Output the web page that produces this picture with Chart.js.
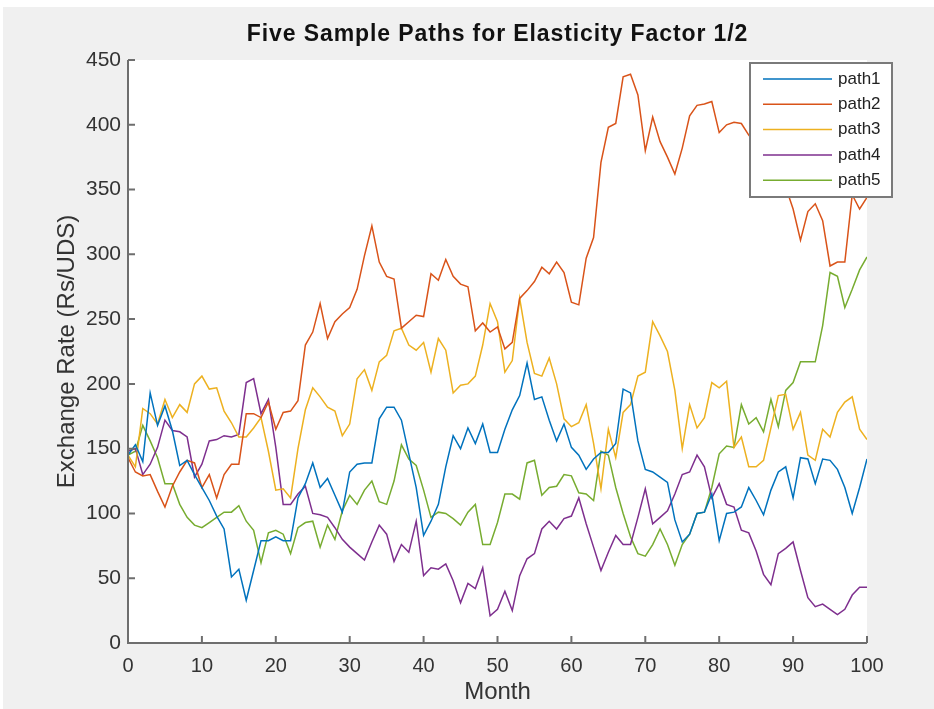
<!DOCTYPE html>
<html>
<head>
<meta charset="utf-8">
<title>Five Sample Paths for Elasticity Factor 1/2</title>
<script src="https://cdn.jsdelivr.net/npm/chart.js@4.4.1/dist/chart.umd.min.js"></script>
<style>
  html, body { margin: 0; padding: 0; background: #ffffff; }
  #wrap { position: relative; width: 934px; height: 709px; }
</style>
</head>
<body>
<div id="wrap"><canvas id="pathChart" width="934" height="709"></canvas></div>
<script>
// ── Data ────────────────────────────────────────────────────────────────────
const months = Array.from({ length: 101 }, (_, i) => i);
const xTicks = [0, 10, 20, 30, 40, 50, 60, 70, 80, 90, 100];
const yTicks = [0, 50, 100, 150, 200, 250, 300, 350, 400, 450];
const seriesNames = ['path1', 'path2', 'path3', 'path4', 'path5'];
const chartTitle = 'Five Sample Paths for Elasticity Factor 1/2';

const path1 = [145, 153, 140, 193, 168, 183, 164, 137, 141, 130,
               120, 110, 98, 88, 51, 57, 33, 56, 79, 79,
               82, 79, 79, 112, 123, 139, 120, 127, 114, 101,
               132, 138, 139, 139, 173, 182, 182, 172, 146, 120,
               83, 94, 107, 136, 160, 150, 166, 154, 169, 147,
               147, 165, 180, 191, 216, 188, 190, 172, 156, 169,
               151, 145, 134, 142, 147, 147, 154, 196, 193, 156,
               134, 132, 128, 124, 95, 78, 84, 100, 101, 115,
               79, 100, 101, 105, 120, 110, 99, 118, 132, 136,
               112, 143, 142, 123, 142, 141, 134, 120, 100, 120,
               142];
const path2 = [143, 132, 129, 130, 117, 105, 121, 132, 141, 139,
               120, 130, 112, 130, 138, 138, 177, 177, 174, 186,
               165, 178, 179, 187, 230, 240, 262, 235, 248, 254,
               259, 273, 299, 322, 294, 283, 281, 243, 248, 253,
               252, 285, 280, 296, 283, 277, 275, 241, 247, 240,
               244, 227, 232, 266, 272, 279, 290, 285, 294, 286,
               263, 261, 297, 313, 371, 398, 401, 437, 439, 423,
               380, 406, 387, 375, 362, 382, 407, 415, 416, 418,
               394, 400, 402, 401, 392, 385, 395, 378, 365, 352,
               335, 311, 333, 339, 326, 291, 294, 294, 346, 335,
               344];
const path3 = [145, 136, 181, 177, 169, 188, 174, 184, 178, 200,
               206, 196, 197, 179, 170, 159, 159, 166, 174, 148,
               118, 119, 112, 150, 180, 197, 190, 182, 179, 160,
               169, 204, 211, 195, 217, 222, 241, 243, 230, 226,
               232, 209, 235, 226, 193, 199, 200, 206, 230, 262,
               248, 209, 218, 266, 232, 208, 206, 220, 200, 173,
               167, 170, 184, 154, 119, 165, 143, 178, 184, 206,
               209, 248, 237, 225, 195, 150, 184, 166, 174, 201,
               197, 202, 151, 159, 136, 136, 141, 166, 191, 192,
               165, 178, 145, 141, 165, 159, 178, 186, 190, 165,
               157];
const path4 = [148, 150, 130, 138, 151, 172, 164, 163, 159, 128,
               138, 156, 157, 160, 159, 161, 201, 204, 177, 188,
               151, 107, 107, 115, 121, 100, 99, 97, 89, 80,
               74, 69, 64, 78, 91, 84, 63, 76, 70, 94,
               52, 58, 57, 61, 48, 31, 46, 42, 58, 21,
               26, 40, 25, 52, 65, 69, 88, 94, 88, 96,
               98, 112, 92, 74, 56, 70, 83, 76, 76, 97,
               119, 92, 97, 102, 115, 130, 132, 145, 136, 112,
               123, 107, 105, 87, 85, 71, 53, 45, 69, 73,
               78, 56, 35, 28, 30, 26, 22, 26, 37, 43,
               43];
const path5 = [145, 148, 168, 156, 143, 123, 123, 107, 97, 91,
               89, 93, 97, 101, 101, 106, 94, 87, 62, 85,
               87, 84, 69, 89, 93, 94, 74, 91, 80, 102,
               114, 107, 118, 125, 109, 107, 125, 153, 142, 137,
               118, 97, 101, 100, 96, 91, 101, 107, 76, 76,
               93, 115, 115, 111, 139, 141, 114, 120, 121, 130,
               129, 116, 115, 110, 148, 145, 120, 100, 82, 69,
               67, 76, 88, 76, 60, 76, 84, 100, 101, 120,
               146, 152, 151, 184, 169, 174, 163, 188, 167, 195,
               201, 217, 217, 217, 245, 286, 283, 259, 273, 288,
               298];

const allPaths = [path1, path2, path3, path4, path5];
const lineColors = ['#0072BD', '#D95319', '#EDB120', '#7E2F8E', '#77AC30'];

// ── Look ────────────────────────────────────────────────────────────────────
const FONT = '"Liberation Sans", Arial, Helvetica, sans-serif';
const FIG_BG = '#F0F0F0';
const AXIS_COLOR = '#6e6e6e';
const TEXT_COLOR = '#333333';

// figure background: white page edge, gray figure, white axes
const figureBg = {
    id: 'figureBg',
    beforeDraw(chart) {
        const { ctx, width, height, chartArea: a } = chart;
        ctx.save();
        ctx.fillStyle = '#ffffff';
        ctx.fillRect(0, 0, width, height);
        ctx.fillStyle = FIG_BG;
        ctx.fillRect(3, 7, width - 3, height - 7);
        ctx.fillStyle = '#ffffff';
        ctx.fillRect(a.left, a.top, a.right - a.left, a.bottom - a.top);
        ctx.restore();
    }
};

// MATLAB-style axes: left + bottom lines with inward ticks
const matlabAxes = {
    id: 'matlabAxes',
    afterDatasetsDraw(chart) {
        const { ctx, chartArea: a, scales: { x, y } } = chart;
        const tick = 7;
        ctx.save();
        ctx.strokeStyle = AXIS_COLOR;
        ctx.lineWidth = 2;
        ctx.beginPath();
        ctx.moveTo(a.left, a.top);
        ctx.lineTo(a.left, a.bottom);
        ctx.lineTo(a.right, a.bottom);
        yTicks.forEach(v => {
            const py = y.getPixelForValue(v);
            ctx.moveTo(a.left, py);
            ctx.lineTo(a.left + tick, py);
        });
        xTicks.forEach(v => {
            const px = x.getPixelForValue(v);
            ctx.moveTo(px, a.bottom);
            ctx.lineTo(px, a.bottom - tick);
        });
        ctx.stroke();
        ctx.restore();
    }
};

// title centred over the axes, not over the whole canvas
const axesTitle = {
    id: 'axesTitle',
    afterDraw(chart) {
        const { ctx, chartArea: a } = chart;
        ctx.save();
        ctx.font = 'bold 23px ' + FONT;
        ctx.letterSpacing = '0.9px';
        ctx.fillStyle = '#111111';
        ctx.textAlign = 'center';
        ctx.textBaseline = 'middle';
        ctx.fillText(chartTitle, (a.left + a.right) / 2, a.top - 25);
        ctx.restore();
    }
};

// legend box in the upper right corner, sticking out past the axes
const boxLegend = {
    id: 'boxLegend',
    afterDraw(chart) {
        const { ctx, chartArea: a } = chart;
        const right = a.right + 25, top = a.top + 3;
        const w = 142, h = 134, rowH = 25.3;
        const left = right - w;
        ctx.save();
        ctx.fillStyle = '#ffffff';
        ctx.fillRect(left, top, w, h);
        ctx.strokeStyle = '#7a7a7a';
        ctx.lineWidth = 2;
        ctx.strokeRect(left, top, w, h);
        ctx.font = '17px ' + FONT;
        ctx.textBaseline = 'middle';
        ctx.textAlign = 'left';
        chart.data.datasets.forEach((ds, i) => {
            const cy = top + 16 + i * rowH;
            ctx.strokeStyle = ds.borderColor;
            ctx.lineWidth = 1.5;
            ctx.beginPath();
            ctx.moveTo(left + 13, cy);
            ctx.lineTo(left + 82, cy);
            ctx.stroke();
            ctx.fillStyle = '#222222';
            ctx.fillText(ds.label, left + 88, cy);
        });
        ctx.restore();
    }
};

// ── Chart ───────────────────────────────────────────────────────────────────
const ctx = document.getElementById('pathChart').getContext('2d');
const chart = new Chart(ctx, {
    type: 'line',
    data: {
        labels: months,
        datasets: allPaths.map((vals, i) => ({
            label: seriesNames[i],
            data: vals.map((v, k) => ({ x: months[k], y: v })),
            borderColor: lineColors[i],
            backgroundColor: lineColors[i],
            borderWidth: 1.5,
            pointRadius: 0,
            tension: 0,
            fill: false,
        }))
    },
    options: {
        responsive: false,
        animation: false,
        devicePixelRatio: 1,
        layout: { padding: { left: 0, right: 67, top: 60, bottom: 0 } },
        plugins: {
            legend: { display: false },
            tooltip: { enabled: false },
            title: { display: false }
        },
        scales: {
            x: {
                type: 'linear',
                min: 0, max: 100,
                afterBuildTicks: s => { s.ticks = xTicks.map(v => ({ value: v })); },
                afterFit: s => { s.height = 66; },
                grid: { display: false, drawTicks: false },
                border: { display: false },
                ticks: { color: TEXT_COLOR, padding: 11, maxRotation: 0, font: { family: FONT, size: 20 } },
                title: {
                    display: true, text: 'Month', color: TEXT_COLOR,
                    font: { family: FONT, size: 24, lineHeight: 1.2 },
                    padding: { top: 0, bottom: 2 }
                }
            },
            y: {
                min: 0, max: 450,
                afterBuildTicks: s => { s.ticks = yTicks.map(v => ({ value: v })); },
                afterFit: s => { s.width = 128; },
                grid: { display: false, drawTicks: false },
                border: { display: false },
                ticks: { color: TEXT_COLOR, padding: 7, font: { family: FONT, size: 21 } },
                title: {
                    display: true, text: 'Exchange Rate (Rs/UDS)', color: TEXT_COLOR,
                    font: { family: FONT, size: 24, lineHeight: 1.2 },
                    padding: { top: 53, bottom: 0 }
                }
            }
        }
    },
    plugins: [figureBg, matlabAxes, axesTitle, boxLegend]
});
</script>
</body>
</html>
